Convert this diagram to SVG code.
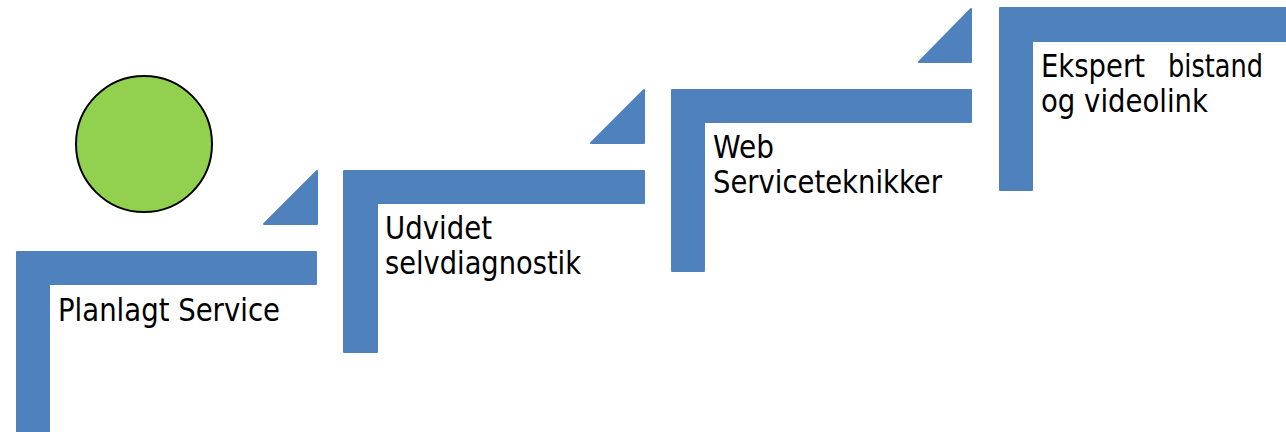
<svg xmlns="http://www.w3.org/2000/svg" width="1286" height="432" viewBox="0 0 1286 432">
  <style>
    .step { fill: #4F81BD; stroke: #4F81BD; stroke-width: 2; stroke-linejoin: round; }
    .label { font-family: "DejaVu Sans", "Liberation Sans", sans-serif; font-size: 32px; fill: #000000; }
  </style>
  <rect width="1286" height="432" fill="#FFFFFF"/>

  <!-- starting marker -->
  <g id="start">
    <circle cx="144" cy="144" r="68" fill="#92D050" stroke="#000000" stroke-width="2"/>
  </g>

  <!-- step 1 -->
  <g id="step-planlagt">
    <polygon class="step" points="17,252 316,252 316,284 49,284 49,440 17,440"/>
    <text class="label" x="58" y="321" textLength="222" lengthAdjust="spacingAndGlyphs">Planlagt Service</text>
  </g>
  <g id="riser-1">
    <polygon class="step" points="264,224 317,171 317,224"/>
  </g>

  <!-- step 2 -->
  <g id="step-selvdiagnostik">
    <polygon class="step" points="344,171 644,171 644,203 377,203 377,352 344,352"/>
    <text class="label" x="385" y="239" textLength="107" lengthAdjust="spacingAndGlyphs">Udvidet</text>
    <text class="label" x="385" y="274" textLength="196" lengthAdjust="spacingAndGlyphs">selvdiagnostik</text>
  </g>
  <g id="riser-2">
    <polygon class="step" points="591,143 644,90 644,143"/>
  </g>

  <!-- step 3 -->
  <g id="step-web">
    <polygon class="step" points="672,90 971,90 971,122 704,122 704,271 672,271"/>
    <text class="label" x="713" y="158" textLength="61" lengthAdjust="spacingAndGlyphs">Web</text>
    <text class="label" x="713" y="193" textLength="229" lengthAdjust="spacingAndGlyphs">Serviceteknikker</text>
  </g>
  <g id="riser-3">
    <polygon class="step" points="919,62 971,9 971,62"/>
  </g>

  <!-- step 4 -->
  <g id="step-ekspert">
    <polygon class="step" points="1000,8 1292,8 1292,41 1032,41 1032,190 1000,190"/>
    <text class="label" y="77"><tspan x="1041" textLength="104" lengthAdjust="spacingAndGlyphs">Ekspert</tspan><tspan x="1168" textLength="95" lengthAdjust="spacingAndGlyphs">bistand</tspan></text>
    <text class="label" x="1041" y="112" textLength="167" lengthAdjust="spacingAndGlyphs">og videolink</text>
  </g>

  <!-- connectors: none drawn -->
  <g id="connectors"/>
</svg>
